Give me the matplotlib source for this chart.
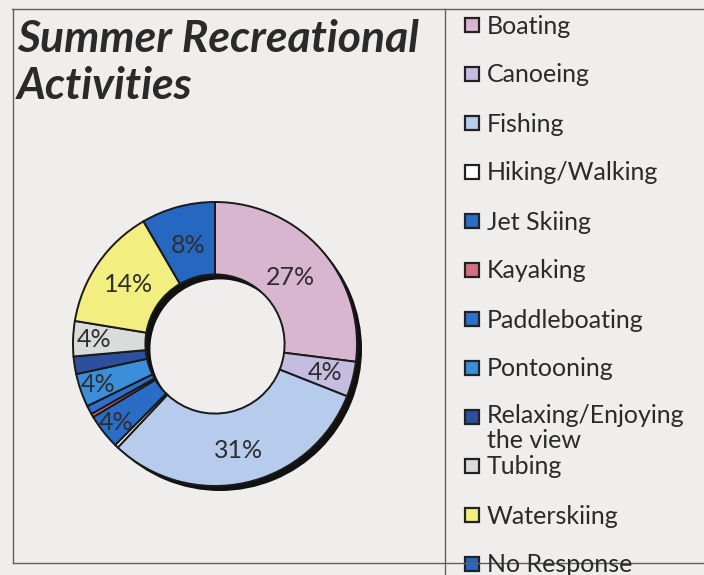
import matplotlib
matplotlib.use("Agg")
import matplotlib.pyplot as plt
from matplotlib.patches import Rectangle, Wedge
from matplotlib.lines import Line2D

categories = ["Boating", "Canoeing", "Fishing", "Hiking/Walking", "Jet Skiing",
              "Kayaking", "Paddleboating", "Pontooning",
              "Relaxing/Enjoying\nthe view", "Tubing", "Waterskiing", "No Response"]
values = [27, 4, 31, 0.4, 4, 0.4, 1, 3.8, 2, 4, 14, 8.4]
colors = ["#d9b6cf", "#c4bde0", "#b7cbec", "#ffffff", "#2a6cc6", "#d4707f",
          "#2d6fc9", "#3b8fda", "#2c4f9e", "#d9dcdb", "#f3ee80", "#2667c2"]
title = "Summer Recreational\nActivities"
# radial placement of each percentage label (fraction of the outer radius)
label_r = [0.71, 0.80, 0.77, 0.75, 0.89, 0.75, 0.75, 0.87, 0.75, 0.85, 0.74, 0.72]

W, H = 704, 575
bg = "#efeeec"
fig = plt.figure(figsize=(W / 100, H / 100), dpi=100, facecolor=bg)

# frame lines
frame = fig.add_axes([0, 0, 1, 1], facecolor="none")
frame.set_xlim(0, W)
frame.set_ylim(H, 0)
frame.axis("off")
lc = "#606060"
frame.add_line(Line2D([12, W], [9, 9], color=lc, lw=1.0))
frame.add_line(Line2D([13, 13], [9, 563], color=lc, lw=1.0))
frame.add_line(Line2D([13, W], [563, 563], color=lc, lw=1.0))
frame.add_line(Line2D([445, 445], [9, H], color=lc, lw=1.0))

# title
fig.text(17 / W, 1 - 19 / H, title, ha="left", va="top", fontsize=32,
         fontweight="bold", fontstyle="italic", family=["Lato", "DejaVu Sans"],
         color="#2a2a2a", linespacing=1.2)

# donut
cx, cy, R = 215, 344, 142
S = 1.15
ax = fig.add_axes([(cx - S * R) / W, (H - cy - S * R) / H, 2 * S * R / W, 2 * S * R / H])
ax.axis("off")
width = 0.51
off = 5.0 / R
# shadow
ax.add_patch(Wedge((off, -off), 1.0, 0, 360, width=width, facecolor="#111111",
                   edgecolor="none", zorder=1))
wedges, texts = ax.pie(values, colors=colors, startangle=90, counterclock=False,
                       radius=1.0,
                       wedgeprops=dict(width=width, edgecolor="#1a1a1a", linewidth=1.4),
                       labels=[f"{v:.0f}%" if v >= 3 else "" for v in values],
                       labeldistance=1.0,
                       textprops=dict(fontsize=18, color="#2e2e2e",
                                      family=["Lato", "DejaVu Sans"],
                                      ha="center", va="center"))
for w in wedges:
    w.set_zorder(2)
for t, r in zip(texts, label_r):
    x, y = t.get_position()
    t.set_position((x * r, y * r))
    t.set_zorder(3)
    t.set_ha("center")
ax.set_xlim(-S, S)
ax.set_ylim(-S, S)

# legend
x_box, y0, step = 465, 25, 49
for i, (cat, col) in enumerate(zip(categories, colors)):
    y = y0 + i * step
    frame.add_patch(Rectangle((x_box, y - 7), 14, 14, facecolor=col,
                              edgecolor="#222222", lw=1.6))
    if "\n" in cat:
        frame.text(x_box + 22, y - 13, cat, ha="left", va="top",
                   fontsize=18, color="#2a2a2a", family=["Lato", "DejaVu Sans"],
                   linespacing=1.12)
    else:
        frame.text(x_box + 22, y + 1, cat, ha="left", va="center",
                   fontsize=18, color="#2a2a2a", family=["Lato", "DejaVu Sans"])

fig.savefig("out.png", dpi=100, facecolor=bg)
